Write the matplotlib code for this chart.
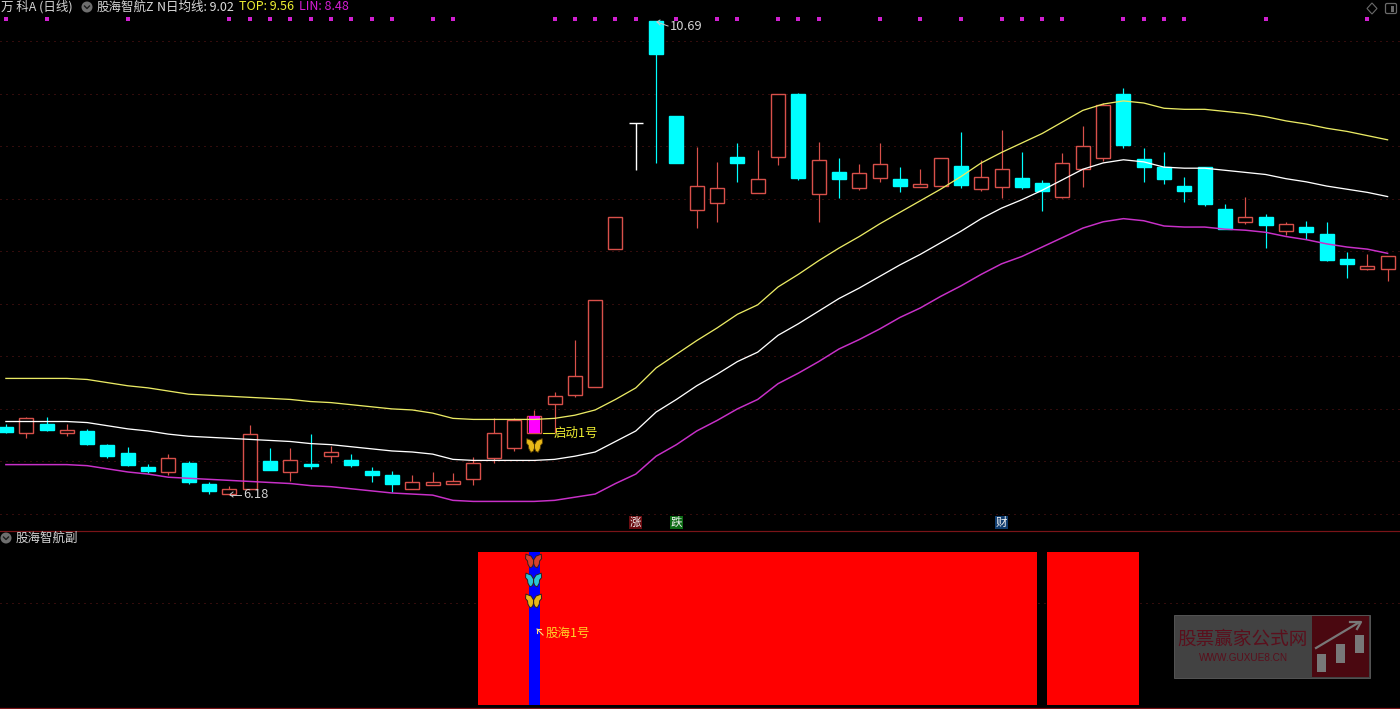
import matplotlib
matplotlib.use("Agg")
import matplotlib.pyplot as plt
from matplotlib.patches import Rectangle, Circle, Polygon, FancyBboxPatch
from matplotlib.path import Path

plt.rcParams['font.family'] = ['Noto Sans CJK SC', 'DejaVu Sans']

# ---------------- data (prices) ----------------
opens = [6.83, 6.77, 6.86, 6.77, 6.79, 6.66, 6.58, 6.45, 6.40, 6.49,
         6.29, 6.19, 6.24, 6.50, 6.40, 6.48, 6.55, 6.51, 6.41, 6.37,
         6.24, 6.28, 6.29, 6.33, 6.53, 6.63, 6.77, 7.05, 7.13, 7.21,
         8.52, 9.72, 10.69, 9.79, 8.89, 8.96, 9.40, 9.05, 9.40, 10.00,
         9.04, 9.25, 9.10, 9.20, 9.19, 9.11, 9.12, 9.31, 9.09, 9.11,
         9.20, 9.15, 9.02, 9.28, 9.39, 10.00, 9.38, 9.30, 9.12, 9.30,
         8.90, 8.78, 8.83, 8.69, 8.73, 8.66, 8.43, 8.33, 8.33]
highs = [6.86, 6.92, 6.92, 6.86, 6.81, 6.67, 6.64, 6.48, 6.57, 6.50,
         6.30, 6.27, 6.85, 6.63, 6.63, 6.76, 6.65, 6.57, 6.45, 6.41,
         6.37, 6.40, 6.39, 6.54, 6.91, 6.91, 6.99, 7.16, 7.66, 8.04,
         8.83, 9.72, 10.69, 9.79, 9.49, 9.35, 9.53, 9.46, 10.00, 10.01,
         9.54, 9.39, 9.33, 9.53, 9.30, 9.28, 9.39, 9.63, 9.37, 9.65,
         9.44, 9.18, 9.43, 9.69, 9.91, 10.05, 9.48, 9.44, 9.21, 9.30,
         8.95, 9.02, 8.85, 8.78, 8.79, 8.78, 8.49, 8.47, 8.45]
lows = [6.77, 6.72, 6.79, 6.74, 6.66, 6.53, 6.46, 6.39, 6.37, 6.29,
        6.19, 6.18, 6.24, 6.42, 6.31, 6.43, 6.49, 6.45, 6.30, 6.21,
        6.24, 6.28, 6.29, 6.28, 6.49, 6.60, 6.77, 6.77, 7.11, 7.21,
        8.52, 9.27, 9.34, 9.34, 8.72, 8.78, 9.16, 9.05, 9.32, 9.18,
        8.78, 9.01, 9.08, 9.16, 9.06, 9.11, 9.12, 9.10, 9.07, 9.01,
        9.09, 8.88, 9.01, 9.11, 9.36, 9.48, 9.16, 9.14, 8.97, 8.93,
        8.71, 8.76, 8.53, 8.65, 8.62, 8.41, 8.25, 8.32, 8.22]
closes = [6.78, 6.91, 6.80, 6.80, 6.67, 6.55, 6.47, 6.41, 6.53, 6.30,
          6.22, 6.24, 6.76, 6.42, 6.51, 6.46, 6.59, 6.47, 6.37, 6.29,
          6.30, 6.30, 6.31, 6.49, 6.77, 6.89, 6.93, 7.12, 7.31, 8.04,
          8.83, 9.72, 10.38, 9.34, 9.12, 9.10, 9.34, 9.19, 10.00, 9.20,
          9.37, 9.19, 9.24, 9.33, 9.12, 9.14, 9.39, 9.13, 9.21, 9.28,
          9.11, 9.07, 9.34, 9.50, 9.89, 9.51, 9.30, 9.19, 9.07, 8.95,
          8.71, 8.83, 8.75, 8.76, 8.68, 8.42, 8.38, 8.36, 8.45]

ma_line = [6.88, 6.88, 6.88, 6.88, 6.87, 6.84, 6.81, 6.79, 6.76, 6.74,
           6.73, 6.72, 6.71, 6.70, 6.69, 6.67, 6.66, 6.64, 6.62, 6.60,
           6.59, 6.57, 6.52, 6.51, 6.51, 6.51, 6.51, 6.52, 6.55, 6.59,
           6.69, 6.79, 6.97, 7.09, 7.22, 7.33, 7.45, 7.54, 7.70, 7.81,
           7.93, 8.05, 8.15, 8.26, 8.37, 8.47, 8.58, 8.69, 8.81, 8.91,
           8.99, 9.08, 9.18, 9.28, 9.34, 9.37, 9.35, 9.30, 9.29, 9.29,
           9.27, 9.25, 9.23, 9.19, 9.16, 9.12, 9.09, 9.06, 9.02]
top_line = [7.29, 7.29, 7.29, 7.29, 7.28, 7.25, 7.22, 7.20, 7.17, 7.14,
            7.13, 7.12, 7.11, 7.10, 7.09, 7.07, 7.06, 7.04, 7.02, 7.00,
            6.99, 6.96, 6.91, 6.90, 6.90, 6.90, 6.90, 6.91, 6.94, 6.99,
            7.09, 7.20, 7.39, 7.52, 7.65, 7.77, 7.90, 7.99, 8.16, 8.28,
            8.41, 8.53, 8.64, 8.76, 8.87, 8.98, 9.09, 9.21, 9.34, 9.44,
            9.53, 9.62, 9.73, 9.84, 9.90, 9.93, 9.91, 9.86, 9.85, 9.85,
            9.83, 9.81, 9.78, 9.74, 9.71, 9.67, 9.64, 9.60, 9.56]
lin_line = [6.47, 6.47, 6.47, 6.47, 6.46, 6.43, 6.40, 6.38, 6.35, 6.34,
            6.33, 6.32, 6.31, 6.30, 6.29, 6.27, 6.26, 6.24, 6.22, 6.20,
            6.19, 6.18, 6.13, 6.12, 6.12, 6.12, 6.12, 6.13, 6.16, 6.19,
            6.29, 6.38, 6.55, 6.66, 6.79, 6.89, 7.00, 7.09, 7.24, 7.34,
            7.45, 7.57, 7.66, 7.76, 7.87, 7.96, 8.07, 8.17, 8.28, 8.38,
            8.45, 8.54, 8.63, 8.72, 8.78, 8.81, 8.79, 8.74, 8.73, 8.73,
            8.71, 8.70, 8.68, 8.64, 8.61, 8.57, 8.54, 8.52, 8.48]

signal_dots = [0, 2, 6, 11, 12, 13, 14, 15, 16, 17, 18, 19, 21, 22, 27, 28, 29, 30, 31,
               33, 35, 36, 38, 39, 40, 43, 45, 47, 49, 50, 51, 52, 55, 56, 57, 58, 62, 67]
red_columns = list(range(24, 51)) + list(range(52, 56))
blue_column = 26
start_candle = 26
price_grid = [10.5, 10.0, 9.5, 9.0, 8.5, 8.0, 7.5, 7.0, 6.5, 6.0]
sub_grid = [0.667]
sub_butterflies = [0.941, 0.817, 0.68]
sub_butterfly_colors = ['#d8402c', '#28c8d8', '#e8b818']

header = [("万 科A (日线)", 1, '#d4d4d4'), ("股海智航Z", 97, '#d4d4d4'),
          ("N日均线: 9.02", 157, '#dcdcdc'), ("TOP: 9.56", 239, '#eeee32'),
          ("LIN: 8.48", 299, '#d41ed4')]

# ---------------- colours ----------------
RED = '#d8504a'
CYAN = '#00ffff'
GRID = '#661818'
FRAME = '#7a1418'
BG = '#000000'

fig = plt.figure(figsize=(14, 7.09), dpi=100, facecolor=BG)
PX = 0.72  # one pixel in points


def placed(top, bottom):
    return [0, 1 - bottom / 709, 1, (bottom - top) / 709]


xlim = (-0.29, 68.61)

# ---------------- main panel ----------------
ax = fig.add_axes(placed(0, 530), facecolor=BG)
ax.set_xlim(*xlim)
ax.set_ylim(5.848, 10.89)
ax.axis('off')
ax.hlines(price_grid, *xlim, colors=GRID, linewidth=PX, linestyles=(0, (1, 5)), zorder=1).set_snap(True)

BW = 14 / 20.32
for i, (o, h, l, c) in enumerate(zip(opens, highs, lows, closes)):
    if c == o:
        ax.vlines(i, l, h, color='white', linewidth=PX * 1.4, zorder=2).set_snap(True)
        ax.hlines(o, i - BW / 2, i + BW / 2, color='white', linewidth=PX * 1.4, zorder=2).set_snap(True)
        continue
    up = c > o
    col = RED if up else CYAN
    top, bot = max(o, c), min(o, c)
    ax.vlines(i, top, h, color=col, linewidth=PX * 1.2, zorder=2).set_snap(True)
    ax.vlines(i, l, bot, color=col, linewidth=PX * 1.2, zorder=2).set_snap(True)
    ax.bar(i, top - bot, BW, bottom=bot, facecolor=BG if up else CYAN,
           edgecolor=col, linewidth=PX * 1.4, zorder=3)

# magenta marker on the start candle
ax.bar(start_candle, closes[start_candle] - opens[start_candle], 11 / 20.32,
       bottom=opens[start_candle], color='#ff00ff', linewidth=0, zorder=4)

xs = list(range(len(ma_line)))
ax.plot(xs, top_line, color='#eaea64', linewidth=PX * 1.3, zorder=5)
ax.plot(xs, ma_line, color='#ffffff', linewidth=PX * 1.3, zorder=5)
ax.plot(xs, lin_line, color='#c830c8', linewidth=PX * 1.5, zorder=5)

ax.scatter(signal_dots, [10.71] * len(signal_dots), marker='s', s=5, color='#d020d0',
           linewidths=0, zorder=6)

# butterfly marker
half = [(0, 0.1), (0.3, 0.6), (0.95, 0.85), (1, 0.3), (0.75, 0.0), (0.7, -0.4),
        (0.45, -0.85), (0.15, -0.7), (0, -0.3), (0, 0.1)]
bf_v = half + [(-a, b) for a, b in half]
bf_c = [Path.MOVETO] + [Path.LINETO] * (len(half) - 2) + [Path.CLOSEPOLY]
bf_c = bf_c + bf_c
BUTTERFLY = Path(bf_v, bf_c)

ax.scatter([start_candle - 0.03], [6.66], marker=BUTTERFLY, s=135, color='#e8b818',
           edgecolors='#5a4000', linewidths=0.6, zorder=7)

# ---------------- sub panel ----------------
ax2 = fig.add_axes(placed(531, 709), facecolor=BG)
ax2.set_xlim(*xlim)
ax2.set_ylim(-0.026, 1.137)
ax2.axis('off')
ax2.hlines(sub_grid, *xlim, colors=GRID, linewidth=PX, linestyles=(0, (1, 5)), zorder=1).set_snap(True)
ax2.bar(red_columns, [1] * len(red_columns), 30.5 / 20.32, color='#ff0000', linewidth=0, zorder=2)
ax2.bar([blue_column], [1], 11 / 20.32, color='#0000ff', linewidth=0, zorder=3)
ax2.scatter([blue_column - 0.03] * 3, sub_butterflies, marker=BUTTERFLY, s=135,
            c=sub_butterfly_colors, edgecolors='#302020', linewidths=0.7, zorder=4)

# ---------------- overlay: frame lines, texts, icons ----------------
ov = fig.add_axes([0, 0, 1, 1], facecolor='none')
ov.set_xlim(0, 1400)
ov.set_ylim(709, 0)
ov.axis('off')

ov.plot([0, 1400], [530.5, 530.5], color=FRAME, linewidth=PX * 1.2)
ov.plot([0, 1400], [707.5, 707.5], color=FRAME, linewidth=PX * 1.2)

FS = 9.0
for label, x, color in header:
    ov.text(x, 7, label, color=color, fontsize=FS, va='center', ha='left')


def chevron(cx, cy):
    ov.add_patch(Circle((cx, cy), 5.5, facecolor='#6e6e6e', edgecolor='none'))
    ov.plot([cx - 2.5, cx, cx + 2.5], [cy - 1, cy + 1.5, cy - 1], color='#1c1c1c', linewidth=1.0)


chevron(87, 7)
chevron(6, 538)
ov.text(16, 538.5, "股海智航副", color='#d4d4d4', fontsize=FS, va='center', ha='left')

# top-right icons
ov.add_patch(Polygon([(1372, 3), (1377, 8.5), (1372, 14), (1367, 8.5)], closed=True,
                     facecolor='none', edgecolor='#6a6a6a', linewidth=0.8))
ov.add_patch(FancyBboxPatch((1385.5, 3.5), 11, 10, boxstyle='round,pad=0,rounding_size=1.5',
                            facecolor='none', edgecolor='#6a6a6a', linewidth=0.9))
ov.add_patch(Rectangle((1391, 5.5), 3, 6, facecolor='#6a6a6a', edgecolor='none'))

# annotations
ov.text(243, 494.5, "6.18", color='#d4d4d4', fontsize=9.3, va='center', ha='left')
ov.plot([230, 241], [494.5, 494.5], color='#c8c8c8', linewidth=0.7)
ov.plot([233, 230, 233], [492, 494.5, 497], color='#c8c8c8', linewidth=0.7)
ov.text(670, 27, "10.69", color='#d4d4d4', fontsize=9.3, va='center', ha='left')
ov.plot([657, 668], [22, 26], color='#c8c8c8', linewidth=0.7)
ov.plot([660, 657, 660], [20, 22, 25], color='#c8c8c8', linewidth=0.7)
ov.text(554, 433, "启动1号", color='#eeee32', fontsize=FS, va='center', ha='left')
ov.plot([543, 554], [432.5, 432.5], color='#e6e632', linewidth=0.8)
ov.text(546, 633, "股海1号", color='#ffd428', fontsize=FS, va='center', ha='left')
ov.plot([537, 543], [629, 635], color='#ffe080', linewidth=0.8)
ov.plot([537, 537, 541], [633, 629, 629], color='#ffe080', linewidth=0.8)

# tags
for x, label, bg in [(629, "涨", '#6b0c10'), (670, "跌", '#0c6b14'), (995, "财", '#103c6e')]:
    ov.add_patch(Rectangle((x, 516), 13, 13, facecolor=bg, edgecolor='none'))
    ov.text(x + 6.5, 522, label, color='#f0f0f0', fontsize=8.3, va='center', ha='center')

# watermark
ov.add_patch(Rectangle((1174, 615), 196, 63, facecolor='#424242', edgecolor='#545454', linewidth=0.7))
ov.add_patch(Rectangle((1312, 616), 57, 61, facecolor='#4a0810', edgecolor='none'))
ov.text(1243, 640, "股票赢家公式网", color='#5a0f1c', fontsize=13.4, va='center', ha='center')
ov.text(1243.5, 658, "WWW.GUXUE8.CN", color='#5a0f1c', fontsize=7.2, va='center', ha='center',
        family=['Liberation Sans'])
for x, y0, y1 in [(1317, 654, 672), (1336, 644, 663), (1355, 635, 653)]:
    ov.add_patch(Rectangle((x, y0), 9, y1 - y0, facecolor='#787878', edgecolor='none'))
ov.plot([1316, 1358], [648, 623], color='#787878', linewidth=1.6)
ov.plot([1350, 1361, 1357], [622, 622, 629], color='#787878', linewidth=1.6)

fig.savefig('out.png', dpi=100, facecolor=BG)
